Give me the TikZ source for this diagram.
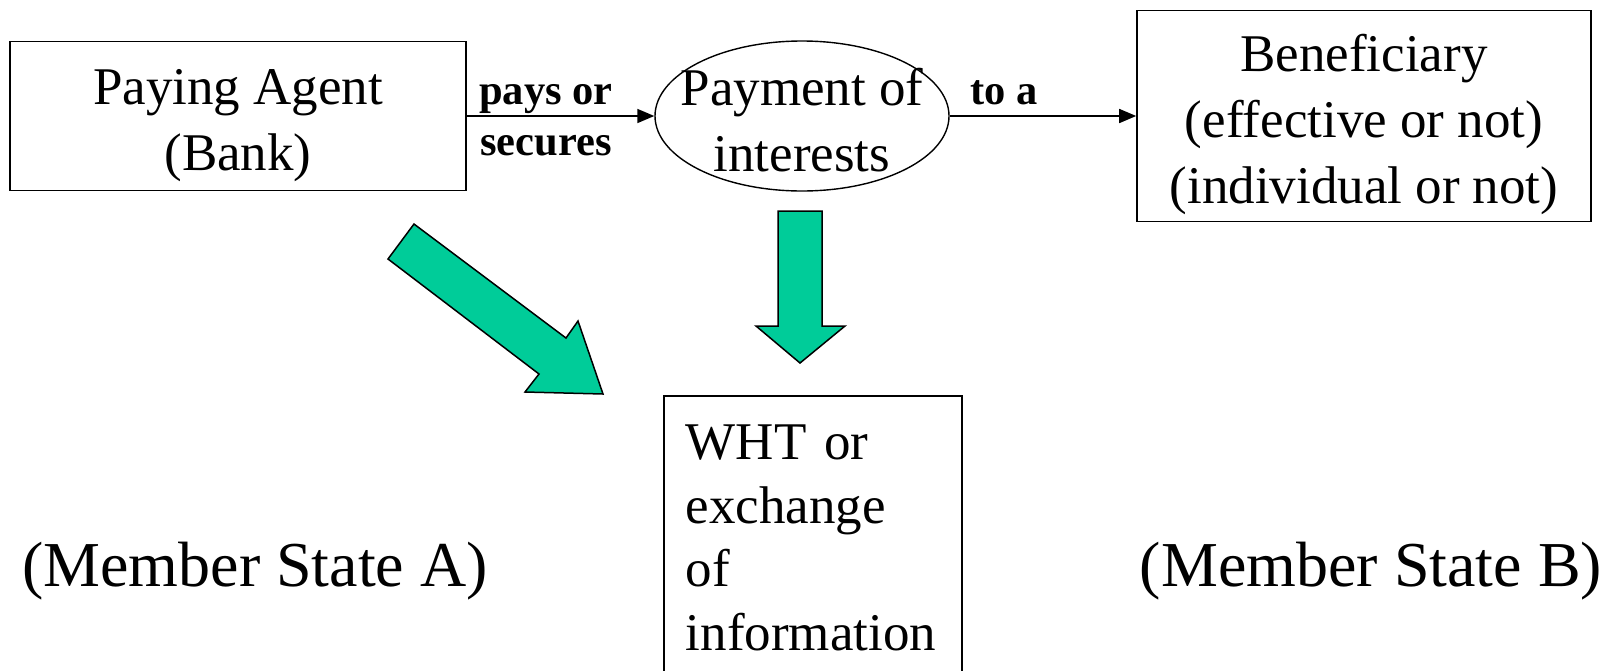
\documentclass[tikz,border=0pt]{standalone}
\usepackage{fontspec}
\setmainfont{Liberation Serif}
\usetikzlibrary{arrows.meta,shapes.geometric}
\definecolor{arrowgreen}{RGB}{0,204,153}
\newcommand\ms{\rule[-0.15\baselineskip]{0pt}{\baselineskip}}
\newcommand\ls{\rule[-0.3\baselineskip]{0pt}{\baselineskip}}
\begin{document}
\begin{tikzpicture}[x=1pt,y=-1pt,
  bigtext/.style={font=\fontsize{53}{63.5}\selectfont},
  statetext/.style={font=\fontsize{64}{76}\selectfont},
  lbl/.style={font=\fontsize{42.5}{51}\selectfont\bfseries},
  box/.style={draw, line width=1.6pt, inner sep=0pt},
  conn/.style={line width=1.6pt, -{Triangle[length=17pt,width=14pt]}},
  greenarrow/.style={fill=arrowgreen, draw=black, line width=1.5pt, line join=miter}]
\useasboundingbox (0,0) rectangle (1621,670);
\clip (0,0) rectangle (1621,670);
% boxes
\node[box, bigtext, minimum width=456pt, minimum height=149pt, align=center] (agent) at (238,116) {\ms Paying Agent\\\ms (Bank)};
\node[draw, ellipse, line width=1.4pt, minimum width=294pt, minimum height=150pt, inner sep=0pt] (payment) at (802,116) {};
\node[bigtext, align=center, inner sep=0pt] (paytext) at (payment.center) {\ms Payment of\\\ms interests};
\node[box, bigtext, minimum width=454pt, minimum height=211pt, align=center] (benef) at (1364,116) {\ms Beneficiary\\\ms (effective or not)\\\ms (individual or not)};
\node[box, bigtext, anchor=north west, text width=254pt, inner xsep=22pt, inner ysep=0pt, align=left, text depth=260pt] (wht) at (663,395) {\rule[-0.3\baselineskip]{0pt}{83pt}WHT or\\\ls exchange\\\ls of\\\ls information};
% connectors
\draw[conn] (agent.east) -- (payment.west);
\draw[conn] (payment.east) -- (benef.west);
% connector labels
\node[lbl, align=center, inner sep=0pt] (paylbl) at (546,119.5) {\ls pays or\\\ls secures};
\node[lbl, inner sep=0pt, anchor=base] (tolbl) at (1004,104) {to a};
% state labels
\node[statetext, inner sep=0pt] (stateA) at (255,571) {(Member State A)};
\node[statetext, inner sep=0pt] (stateB) at (1371,571) {(Member State B)};
% block arrows
\draw[greenarrow] (414,224) -- (566,338) -- (578,321) -- (603,394) -- (525,392) -- (539,374) -- (388,259) -- cycle;
\draw[greenarrow] (778,211) -- (822,211) -- (822,326) -- (845,326) -- (800,363) -- (756,326) -- (778,326) -- cycle;
\end{tikzpicture}
\end{document}
